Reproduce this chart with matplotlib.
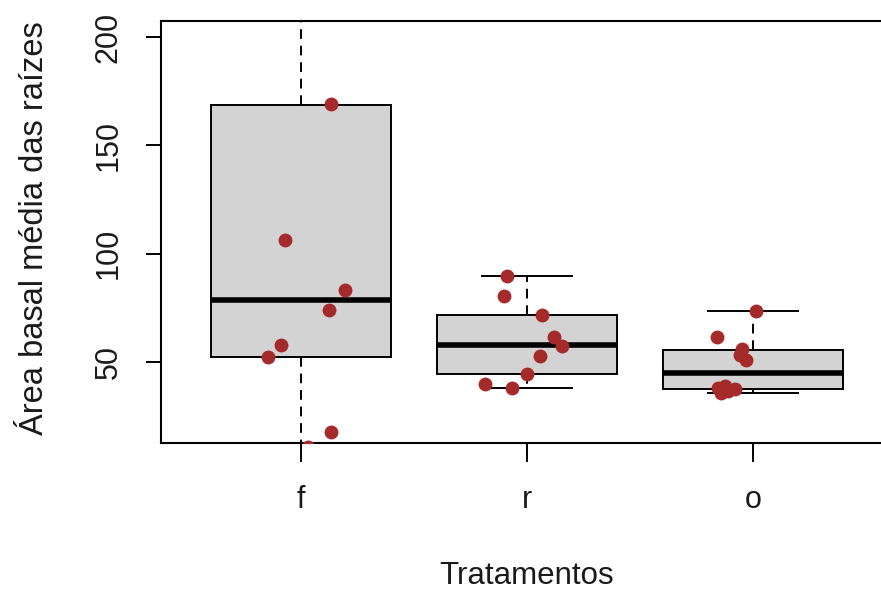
import matplotlib
matplotlib.use("Agg")
import matplotlib.pyplot as plt

plt.rcParams['font.family'] = ['Liberation Sans', 'DejaVu Sans']

# grupos (tratamentos)
tratamentos = ["f", "r", "o"]

# estatisticas das caixas
medianas = [78.5, 57.7, 45.0]
q1 = [52.4, 44.6, 37.6]
q3 = [168.8, 71.8, 55.7]
bigode_inf = [11.0, 38.1, 35.6]
bigode_sup = [245.0, 89.8, 73.7]

# pontos (valores e deslocamento horizontal do jitter)
f_vals = [169.0, 106.4, 83.3, 74.1, 58.0, 52.4, 17.8, 11.0, 215.0, 245.0]
f_jit = [0.133, -0.071, 0.195, 0.124, -0.088, -0.146, 0.133, 0.031, 0.05, -0.10]
r_vals = [89.8, 80.5, 71.8, 61.6, 57.5, 52.9, 44.6, 40.0, 38.1]
r_jit = [-0.088, -0.102, 0.066, 0.119, 0.155, 0.058, 0.0, -0.186, -0.066]
o_vals = [73.6, 61.6, 56.0, 53.3, 51.0, 39.0, 38.2, 37.6, 36.5, 35.6]
o_jit = [0.013, -0.159, -0.049, -0.058, -0.031, -0.124, -0.155, -0.080, -0.111, -0.140]

fig = plt.figure(figsize=(8.81, 5.93), dpi=100)
ax = fig.add_axes([161 / 881, 0.2533, 732 / 881, 0.7106])

stats = []
for i, nome in enumerate(tratamentos):
    stats.append(dict(label=nome, med=medianas[i], q1=q1[i], q3=q3[i],
                      whislo=bigode_inf[i], whishi=bigode_sup[i], fliers=[]))

ax.bxp(stats, positions=[1, 2, 3], widths=0.8, patch_artist=True,
       showfliers=False,
       boxprops=dict(facecolor='#d3d3d3', edgecolor='black', linewidth=1.4),
       medianprops=dict(color='black', linewidth=4),
       whiskerprops=dict(color='black', linewidth=1.4, linestyle=(0, (5, 3.5))),
       capprops=dict(color='black', linewidth=1.4),
       capwidths=0.4)

for pos, vals, jit in [(1, f_vals, f_jit), (2, r_vals, r_jit), (3, o_vals, o_jit)]:
    xs = [pos + j for j in jit]
    ax.plot(xs, vals, 'o', color='#a52a2a', markersize=10, zorder=5,
            markeredgewidth=0)

ax.set_xlim(0.38, 3.62)
ax.set_ylim(12.8, 207.2)
ax.set_yticks([50, 100, 150, 200])
ax.set_xticks([1, 2, 3])
ax.set_xticklabels(tratamentos)

for s in ax.spines.values():
    s.set_linewidth(1.5)

ax.tick_params(axis='y', length=11, width=1.4, labelsize=22, pad=16,
               labelrotation=90, labelcolor='#1a1a1a')
ax.tick_params(axis='x', length=13.5, width=1.4, labelsize=22, pad=17,
               labelcolor='#1a1a1a')
for lab in ax.get_yticklabels():
    lab.set_va('center')

ax.set_ylabel("Área basal média das raízes", fontsize=23.5, color='#1a1a1a')
ax.set_xlabel("Tratamentos", fontsize=22.5, color='#1a1a1a')
ax.yaxis.set_label_coords(-0.152, 0.51)
ax.xaxis.set_label_coords(0.5, -0.281)

fig.savefig("out.png", dpi=100)
